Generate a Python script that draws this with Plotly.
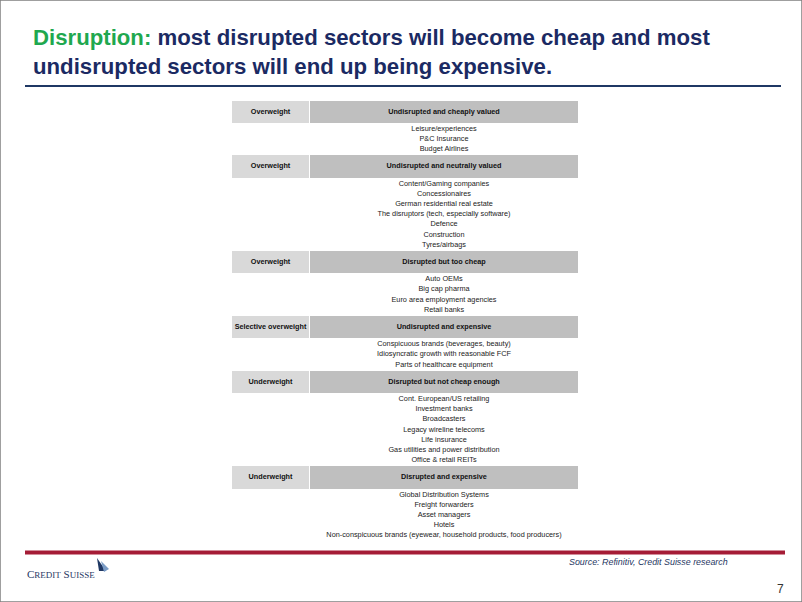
import plotly.graph_objects as go

# table content
stances = ["Overweight", "Overweight", "Overweight", "Selective overweight", "Underweight", "Underweight"]
headings = [
    "Undisrupted and cheaply valued",
    "Undisrupted and neutrally valued",
    "Disrupted but too cheap",
    "Undisrupted and expensive",
    "Disrupted but not cheap enough",
    "Disrupted and expensive",
]
cheap_undisrupted = ["Leisure/experiences", "P&C Insurance", "Budget Airlines"]
neutral_undisrupted = [
    "Content/Gaming companies", "Concessionaires", "German residential real estate",
    "The disruptors (tech, especially software)", "Defence", "Construction", "Tyres/airbags",
]
too_cheap_disrupted = ["Auto OEMs", "Big cap pharma", "Euro area employment agencies", "Retail banks"]
expensive_undisrupted = [
    "Conspicuous brands (beverages, beauty)", "Idiosyncratic growth with reasonable FCF",
    "Parts of healthcare equipment",
]
not_cheap_disrupted = [
    "Cont. European/US retailing", "Investment banks", "Broadcasters", "Legacy wireline telecoms",
    "Life insurance", "Gas utilities and power distribution", "Office & retail REITs",
]
expensive_disrupted = [
    "Global Distribution Systems", "Freight forwarders", "Asset managers", "Hotels",
    "Non-conspicuous brands (eyewear, household products, food producers)",
]
sector_groups = [cheap_undisrupted, neutral_undisrupted, too_cheap_disrupted,
                 expensive_undisrupted, not_cheap_disrupted, expensive_disrupted]

W, H = 802, 602
NAVY = "#1b2a63"
FONT = "Liberation Sans, Arial, sans-serif"

# table geometry (pixel-like axis units)
top = 100.5
head_h = 22.4
line_h = 10.2
pad = 6.0
left_x0, left_x1 = 232, 309
right_x0, right_x1 = 310, 578
right_mid = (right_x0 + right_x1) / 2
left_mid = (left_x0 + left_x1) / 2

head_y, item_x, item_y, item_text = [], [], [], []
y = top
for items in sector_groups:
    head_y.append(y + head_h / 2)
    y += head_h
    for i, s in enumerate(items):
        item_x.append(right_mid)
        item_y.append(y + pad + i * line_h)
        item_text.append(s)
    y += pad * 2 + (len(items) - 1) * line_h

fig = go.Figure()
fig.add_trace(go.Bar(
    y=head_y, x=[left_x1 - left_x0] * len(head_y), base=left_x0, orientation="h",
    width=head_h, marker=dict(color="#d9d9d9", line_width=0), hoverinfo="skip",
))
fig.add_trace(go.Bar(
    y=head_y, x=[right_x1 - right_x0] * len(head_y), base=right_x0, orientation="h",
    width=head_h, marker=dict(color="#bfbfbf", line_width=0), hoverinfo="skip",
))
fig.add_trace(go.Scatter(
    x=[left_mid] * len(stances), y=head_y, text=[f"<b>{s}</b>" for s in stances],
    mode="text", textfont=dict(family=FONT, size=7.25, color="#111111"), hoverinfo="skip",
))
fig.add_trace(go.Scatter(
    x=[right_mid] * len(headings), y=head_y, text=[f"<b>{s}</b>" for s in headings],
    mode="text", textfont=dict(family=FONT, size=7.25, color="#111111"), hoverinfo="skip",
))
fig.add_trace(go.Scatter(
    x=item_x, y=item_y, text=item_text, mode="text",
    textfont=dict(family=FONT, size=7.3, color="#222222"), hoverinfo="skip",
))

# title
fig.add_annotation(
    x=31, y=37, xanchor="left", yanchor="middle", showarrow=False,
    text="<span style='color:#1fa84f'>Disruption:</span> most disrupted sectors will become cheap and most",
    font=dict(family=FONT, size=22.2, color=NAVY, weight="bold"),
)
fig.add_annotation(
    x=31, y=66, xanchor="left", yanchor="middle", showarrow=False,
    text="undisrupted sectors will end up being expensive.",
    font=dict(family=FONT, size=22.2, color=NAVY, weight="bold"),
)

# footer
fig.add_annotation(
    x=567, y=562, xanchor="left", yanchor="middle", showarrow=False,
    text="<i>Source: Refinitiv, Credit Suisse research</i>",
    font=dict(family=FONT, size=8.9, color="#1f3864"),
)
fig.add_annotation(
    x=786, y=589, xanchor="right", yanchor="middle", showarrow=False,
    text="7", font=dict(family=FONT, size=12, color="#333333"),
)
fig.add_annotation(
    x=25, y=574, xanchor="left", yanchor="middle", showarrow=False,
    text="C<span style='font-size:9px'>REDIT</span> S<span style='font-size:9px'>UISSE</span>",
    font=dict(family="Liberation Serif, serif", size=11, color="#1f3864"),
)

shapes = [
    dict(type="line", x0=25, x1=781, y0=86, y1=86, line=dict(color="#1f3864", width=2)),
    dict(type="line", x0=25, x1=785, y0=552.5, y1=552.5, line=dict(color="#a51c36", width=4)),
    dict(type="path", path="M 97 558 L 106 571 L 99 571 Z", fillcolor="#1f3864", line_width=0),
    dict(type="path", path="M 101 561 L 109 569 L 104 572 Z", fillcolor="#7a9cc6", line_width=0),
    dict(type="rect", xref="paper", yref="paper", x0=0, x1=1, y0=0, y1=1,
         line=dict(color="#808080", width=1.5)),
]
for s in shapes:
    s.setdefault("xref", "x")
    s.setdefault("yref", "y")
    fig.add_shape(layer="above", **s)

fig.update_layout(
    width=W, height=H, margin=dict(l=0, r=0, t=0, b=0),
    paper_bgcolor="white", plot_bgcolor="white", showlegend=False,
    barmode="overlay", bargap=0,
    xaxis=dict(range=[0, W], visible=False, fixedrange=True),
    yaxis=dict(range=[H, 0], visible=False, fixedrange=True),
)

fig.write_html(
    "out.html",
    config={"displayModeBar": False},
    post_script="document.body.style.margin='0';document.body.style.overflow='hidden';",
)
